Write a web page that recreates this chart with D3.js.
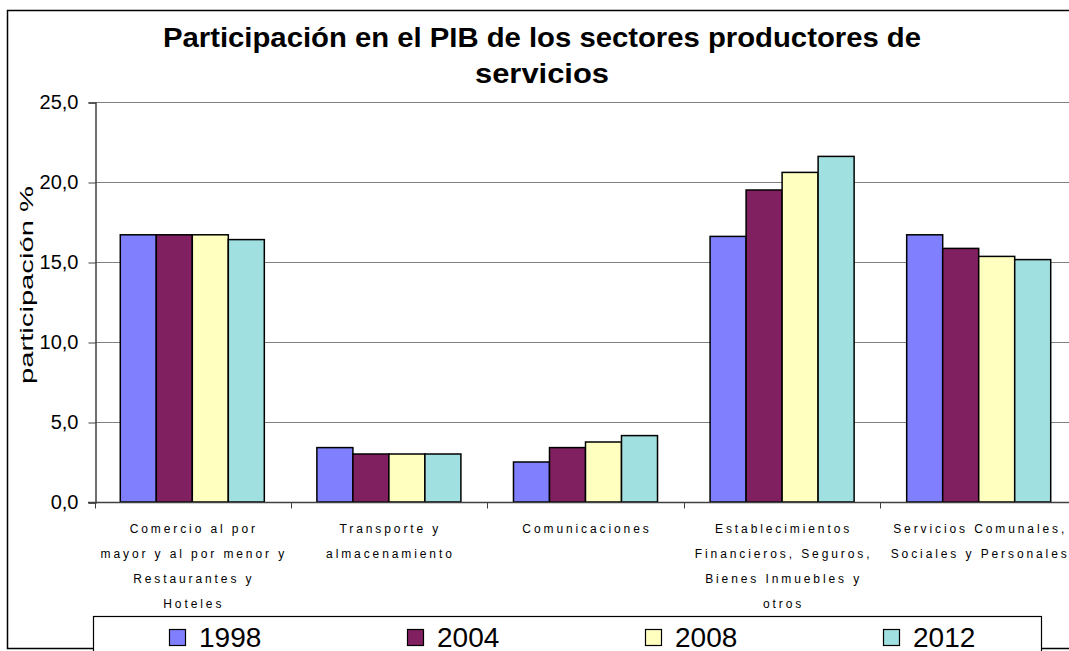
<!DOCTYPE html>
<html>
<head>
<meta charset="utf-8">
<script src="https://cdn.jsdelivr.net/npm/d3@7"></script>
<style>
  body { margin: 0; background: #fff; }
  svg { display: block; font-family: "Liberation Sans", Arial, sans-serif; }
</style>
</head>
<body>
<svg id="chart" width="1069" height="651"></svg>
<script>
const categories = [
  ['Comercio al por', 'mayor y al por menor y', 'Restaurantes y', 'Hoteles'],
  ['Transporte y', 'almacenamiento'],
  ['Comunicaciones'],
  ['Establecimientos', 'Financieros, Seguros,', 'Bienes Inmuebles y', 'otros'],
  ['Servicios Comunales,', 'Sociales y Personales']
];
const years = ['1998', '2004', '2008', '2012'];
const values1998 = [16.7, 3.4, 2.5, 16.6, 16.7];
const values2004 = [16.7, 3.0, 3.4, 19.5, 15.85];
const values2008 = [16.7, 3.0, 3.75, 20.6, 15.35];
const values2012 = [16.4, 3.0, 4.15, 21.6, 15.15];
const yTicks = [0, 5, 10, 15, 20, 25];
const colors = ['#8080ff', '#802060', '#ffffc0', '#a0e0e0'];

const series = [values1998, values2004, values2008, values2012];
const svg = d3.select('#chart');

// outer chart frame
svg.append('rect')
  .attr('x', 7.5).attr('y', 10.5)
  .attr('width', 1080).attr('height', 638)
  .attr('fill', 'none').attr('stroke', '#000').attr('stroke-width', 1.5);

// title
const title = svg.append('text')
  .attr('text-anchor', 'middle')
  .attr('font-weight', 'bold')
  .attr('font-size', 27)
  .attr('fill', '#000');
title.append('tspan').attr('x', 542).attr('y', 47)
  .attr('textLength', 758).attr('lengthAdjust', 'spacingAndGlyphs')
  .text('Participación en el PIB de los sectores productores de');
title.append('tspan').attr('x', 542).attr('y', 83)
  .attr('textLength', 134).attr('lengthAdjust', 'spacingAndGlyphs')
  .text('servicios');

const x = d3.scaleBand().domain(d3.range(categories.length)).range([94, 1077]);
const xi = d3.scaleBand().domain(d3.range(years.length)).range([0, x.bandwidth()]).paddingOuter(0.73);
const y = d3.scaleLinear().domain([0, 25]).range([502, 102]);

// gridlines
svg.append('g').selectAll('line')
  .data(yTicks.filter(d => d > 0))
  .join('line')
  .attr('x1', 95).attr('x2', 1069)
  .attr('y1', d => Math.round(y(d)) + 0.5).attr('y2', d => Math.round(y(d)) + 0.5)
  .attr('stroke', '#808080').attr('stroke-width', 1.2);

// y axis
const yAxis = svg.append('g')
  .attr('transform', 'translate(95.5,0.5)')
  .call(d3.axisLeft(y).tickValues(yTicks).tickSize(7).tickPadding(10)
    .tickFormat(d => d3.format('.1f')(d).replace('.', ',')));
yAxis.select('.domain').attr('stroke', '#404040').attr('stroke-width', 1.5);
yAxis.selectAll('.tick line').attr('stroke', '#404040');
yAxis.selectAll('.tick text').attr('font-size', 20).attr('fill', '#000')
  .attr('font-family', '"Liberation Sans", Arial, sans-serif');

svg.append('text')
  .attr('transform', 'translate(33,285) rotate(-90)')
  .attr('text-anchor', 'middle')
  .attr('font-size', 19)
  .attr('textLength', 198).attr('lengthAdjust', 'spacingAndGlyphs')
  .text('participación %');

// bars
const groups = svg.append('g').selectAll('g')
  .data(categories.map((c, i) => i))
  .join('g')
  .attr('transform', i => `translate(${x(i)},0)`);

groups.selectAll('rect')
  .data(i => series.map((s, k) => ({ k, v: s[i] })))
  .join('rect')
  .attr('x', d => xi(d.k))
  .attr('y', d => y(d.v))
  .attr('width', xi.bandwidth())
  .attr('height', d => y(0) - y(d.v))
  .attr('fill', d => colors[d.k])
  .attr('stroke', '#000')
  .attr('stroke-width', 1.5);

// x axis
const xAxis = svg.append('g').attr('transform', 'translate(0,502.5)');
xAxis.append('line')
  .attr('x1', 88).attr('x2', 1069)
  .attr('stroke', '#404040').attr('stroke-width', 1.5);
xAxis.selectAll('.tk')
  .data(d3.range(categories.length + 1))
  .join('line')
  .attr('class', 'tk')
  .attr('x1', i => i === 0 ? 95.5 : Math.round(x(0) + i * x.step()) + 0.5)
  .attr('x2', i => i === 0 ? 95.5 : Math.round(x(0) + i * x.step()) + 0.5)
  .attr('y1', 0).attr('y2', 6)
  .attr('stroke', '#404040');

// category labels
categories.forEach((lines, i) => {
  const t = svg.append('text')
    .attr('text-anchor', 'middle')
    .attr('font-size', 12)
    .attr('letter-spacing', '2.9px')
    .attr('fill', '#000');
  lines.forEach((line, j) => {
    t.append('tspan')
      .attr('x', x(i) + x.bandwidth() / 2 + 1.5)
      .attr('y', 533 + j * 25)
      .text(line);
  });
});

// legend
svg.append('rect')
  .attr('x', 93.5).attr('y', 616.5)
  .attr('width', 948).attr('height', 40)
  .attr('fill', '#fff').attr('stroke', '#000').attr('stroke-width', 1.2);

const legend = svg.append('g').selectAll('g')
  .data(years)
  .join('g')
  .attr('transform', (d, i) => `translate(${169 + i * 238},0)`);
legend.append('rect')
  .attr('x', 0.5).attr('y', 629.5)
  .attr('width', 16).attr('height', 16)
  .attr('fill', (d, i) => colors[i])
  .attr('stroke', '#000').attr('stroke-width', 1.2);
legend.append('text')
  .attr('x', 30).attr('y', 647)
  .attr('font-size', 28)
  .text(d => d);
</script>
</body>
</html>
